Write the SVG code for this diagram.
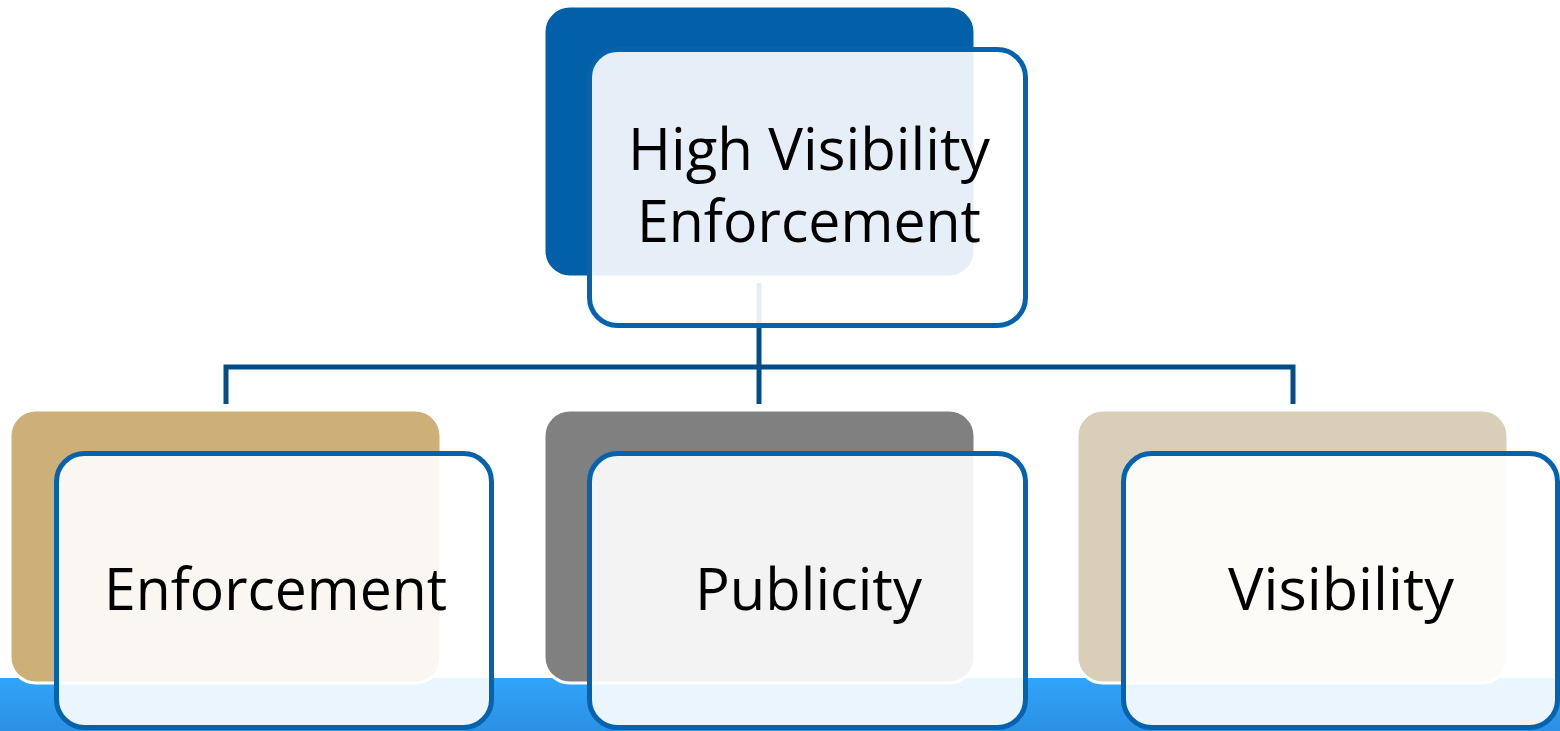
<svg xmlns="http://www.w3.org/2000/svg" width="1560" height="731" viewBox="0 0 1560 731">
  <defs>
    <linearGradient id="barGrad" x1="0" y1="0" x2="0" y2="1">
      <stop offset="0" stop-color="#31A4F9"/>
      <stop offset="1" stop-color="#2A91E4"/>
    </linearGradient>
  </defs>
  <style>
    .back { stroke: #FFFFFF; stroke-width: 3; }
    .front { fill: #FFFFFF; fill-opacity: 0.9; stroke: #0563AE; stroke-width: 5; }
    .conn { fill: none; stroke: #034C8A; stroke-width: 5; }
    .label { font-family: "Open Sans", "Liberation Sans", sans-serif; font-size: 58px; fill: #000000; text-anchor: middle; }
  </style>
  <rect x="0" y="678" width="1560" height="53" fill="url(#barGrad)"/>
  <g id="connectors">
    <line class="conn" x1="759" y1="283" x2="759" y2="404"/>
    <polyline class="conn" points="226,404 226,367 1293,367 1293,404"/>
  </g>
  <g id="node-top">
    <rect class="back" x="544" y="6" width="431" height="271" rx="26" fill="#0260A8"/>
    <rect class="front" x="589.5" y="49.5" width="436" height="276" rx="28"/>
    <text class="label" x="809" y="170" textLength="362" lengthAdjust="spacingAndGlyphs">High Visibility</text>
    <text class="label" x="809" y="242" textLength="344" lengthAdjust="spacingAndGlyphs">Enforcement</text>
  </g>
  <g id="node-enforcement">
    <rect class="back" x="10" y="410" width="431" height="273" rx="26" fill="#CDAF78"/>
    <rect class="front" x="56.5" y="453.5" width="435" height="274" rx="28"/>
    <text class="label" x="275.5" y="610" textLength="343" lengthAdjust="spacingAndGlyphs">Enforcement</text>
  </g>
  <g id="node-publicity">
    <rect class="back" x="544" y="410" width="431" height="273" rx="26" fill="#808080"/>
    <rect class="front" x="589.5" y="453.5" width="436" height="274" rx="28"/>
    <text class="label" x="808.5" y="610" textLength="227" lengthAdjust="spacingAndGlyphs">Publicity</text>
  </g>
  <g id="node-visibility">
    <rect class="back" x="1077" y="410" width="431" height="273" rx="26" fill="#D9CFB8"/>
    <rect class="front" x="1123.5" y="453.5" width="434" height="274" rx="28"/>
    <text class="label" x="1341" y="610" textLength="226" lengthAdjust="spacingAndGlyphs">Visibility</text>
  </g>
</svg>
